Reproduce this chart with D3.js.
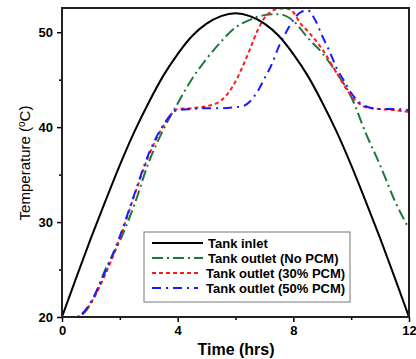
<!DOCTYPE html>
<html><head><meta charset="utf-8">
<script src="https://cdn.jsdelivr.net/npm/d3@7/dist/d3.min.js"></script>
<style>
html,body{margin:0;padding:0;background:#fff;}
svg{display:block;font-family:"Liberation Sans",Arial,sans-serif;font-weight:bold;}
</style></head><body>
<svg id="chart" width="416" height="359"></svg>
<script>
// ---- data ----
const inletT   = [0,0.5,1,1.5,2,2.5,3,3.5,4,4.5,5,5.5,6,6.5,7,7.5,8,8.5,9,9.5,10,10.5,11,11.5,12];
const inletV   = [20,24.2,28.3,32.2,36,39.5,42.6,45.4,47.7,49.6,50.9,51.7,52,51.7,50.9,49.6,47.7,45.4,42.6,39.5,36,32.2,28.3,24.2,20];

const noPcmT   = [0,0.5,0.75,1,1.5,2,2.5,3,3.5,4,4.5,5,5.5,6,6.5,7,7.5,8,8.5,9,9.5,10,10.5,11,11.5,12];
const noPcmV   = [20,20,20.4,21.4,25,28,31.8,36.3,39.7,42.5,45.1,47.2,49.0,50.5,51.3,51.8,51.9,51.2,49.4,47.8,45.7,43.2,39.4,36.0,32.3,29.3];

const pcm30T   = [0,0.5,0.75,1,1.5,2,2.5,3,3.5,4,4.5,5,5.5,5.75,6,6.25,6.5,6.75,7,7.25,7.5,7.75,8,8.25,8.5,9,9.5,10,10.5,11,11.5,12];
const pcm30V   = [20,20,20.5,21.5,24.5,28.3,32.8,37,40.1,41.9,42.0,42.2,42.8,43.6,44.8,46.4,48.2,50.1,51.5,52.2,52.5,52.5,52.1,50.9,50.1,48.2,45.7,43.3,42.1,41.9,41.8,41.6];

const pcm50T   = [0,0.5,0.75,1,1.5,2,2.5,3,3.5,4,4.5,5,5.5,6,6.25,6.5,6.75,7,7.25,7.5,7.75,8,8.25,8.5,8.75,9,9.25,9.5,9.75,10,10.25,10.5,11,11.5,12];
const pcm50V   = [20,20,20.5,21.6,24.8,28.5,32.9,37.2,40.2,41.8,41.9,42.0,42.0,42.1,42.2,42.7,43.7,45.1,46.6,48.5,50.0,51.3,52.1,52.3,51.3,49.6,48.0,46.2,44.9,43.6,42.7,42.2,41.9,41.9,41.8];

const seriesNames = ["Tank inlet","Tank outlet (No PCM)","Tank outlet (30% PCM)","Tank outlet (50% PCM)"];
const xTicks = [0,4,8,12];
const xMinor = [2,6,10];
const yTicks = [20,30,40,50];
const yMinor = [25,35,45];

// ---- layout ----
const L=62, R=409, T=8, B=317;
const svg = d3.select("#chart");
const x = d3.scaleLinear().domain([0,12]).range([L,R]);
const y = d3.scaleLinear().domain([20,52.55]).range([B,T]);

const styles = [
  {color:"#000000", dash:null, w:2},
  {color:"#1a7a3c", dash:"11,4,2,4", w:2},
  {color:"#ff1a1a", dash:"4,3", w:2},
  {color:"#1a1aff", dash:"9,5,2,5", w:2}
];
const data = [
  inletT.map((t,i)=>[t,inletV[i]]),
  noPcmT.map((t,i)=>[t,noPcmV[i]]),
  pcm30T.map((t,i)=>[t,pcm30V[i]]),
  pcm50T.map((t,i)=>[t,pcm50V[i]])
];

svg.append("defs").append("clipPath").attr("id","clip")
  .append("rect").attr("x",L).attr("y",T).attr("width",R-L).attr("height",B-T);

const line = d3.line().x(d=>x(d[0])).y(d=>y(d[1])).curve(d3.curveMonotoneX);
const g = svg.append("g").attr("clip-path","url(#clip)");
[1,2,3,0].forEach(i=>{
  g.append("path").datum(data[i]).attr("d",line)
   .attr("fill","none").attr("stroke",styles[i].color)
   .attr("stroke-width",styles[i].w)
   .attr("stroke-dasharray",styles[i].dash);
});

// axes
svg.append("g").attr("transform",`translate(0,${B})`)
  .call(d3.axisBottom(x).tickValues(xTicks).tickSize(5).tickPadding(4).tickFormat(d3.format("d")));
svg.append("g").attr("transform",`translate(0,${B})`)
  .call(d3.axisBottom(x).tickValues(xMinor).tickSize(3).tickFormat(""));
svg.append("g").attr("transform",`translate(${L},0)`)
  .call(d3.axisLeft(y).tickValues(yTicks).tickSize(5).tickPadding(4).tickFormat(d3.format("d")));
svg.append("g").attr("transform",`translate(${L},0)`)
  .call(d3.axisLeft(y).tickValues(yMinor).tickSize(3).tickFormat(""));
svg.selectAll(".domain").remove();
svg.selectAll(".tick line").attr("stroke","#000").attr("stroke-width",1.5);
svg.selectAll(".tick text").attr("font-size",13).attr("font-weight","bold")
  .attr("font-family","'Liberation Sans',Arial,sans-serif").attr("fill","#000");

// frame
svg.append("rect").attr("x",L).attr("y",T).attr("width",R-L).attr("height",B-T)
  .attr("fill","none").attr("stroke","#222").attr("stroke-width",2);

// axis titles
svg.append("text").attr("x",236).attr("y",355).attr("text-anchor","middle")
  .attr("font-size",16).text("Time (hrs)");
const yt = svg.append("text").attr("transform",`translate(30,163) rotate(-90)`)
  .attr("text-anchor","middle").attr("font-size",15).attr("font-weight","normal");
yt.append("tspan").text("Temperature (");
yt.append("tspan").attr("font-size",10).attr("dy",-5).text("o");
yt.append("tspan").attr("dy",5).text("C)");

// legend
const lg = svg.append("g");
lg.append("rect").attr("x",144).attr("y",232).attr("width",206).attr("height",70)
  .attr("fill","#fff").attr("stroke","#777").attr("stroke-width",1);
const rowsY = [243,258,273,288];
seriesNames.forEach((n,i)=>{
  const x1 = 152, x2 = i<2 ? 203 : 198;
  lg.append("line").attr("x1",x1).attr("x2",x2).attr("y1",rowsY[i]).attr("y2",rowsY[i])
    .attr("stroke",styles[i].color).attr("stroke-width",2)
    .attr("stroke-dasharray",styles[i].dash);
  lg.append("text").attr("x", i<2 ? 208 : 206).attr("y",rowsY[i]+4.5)
    .attr("font-size",13).text(n);
});
</script></body></html>
